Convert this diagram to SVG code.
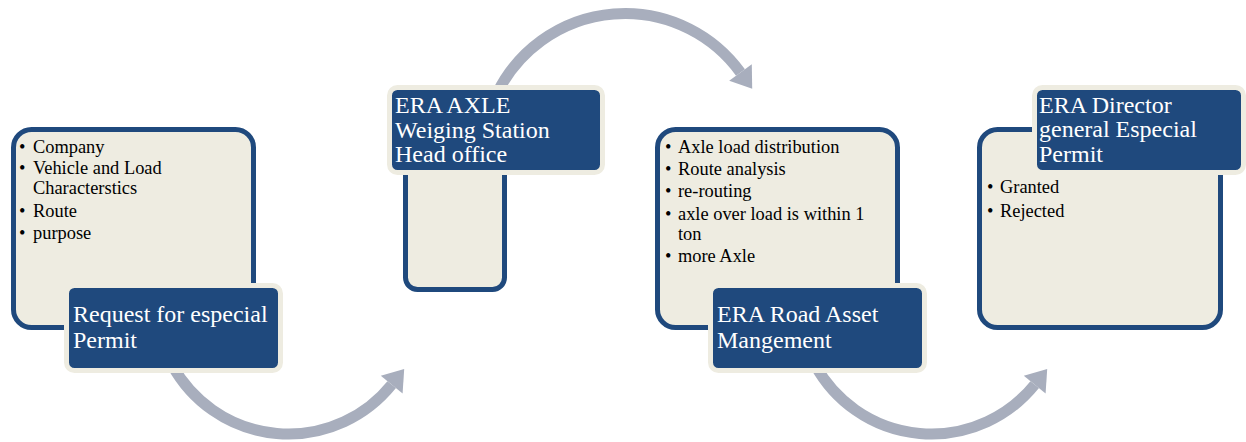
<svg xmlns="http://www.w3.org/2000/svg" width="1246" height="442" viewBox="0 0 1246 442">
<style>
.arc{fill:none;stroke:#a8aebd;stroke-width:11}
.head{fill:#a8aebd}
.light{fill:#eeece1;stroke:#1f497d;stroke-width:5}
.dark{fill:#1f497d;stroke:#eeece1;stroke-width:5}
.t{font-family:"Liberation Serif","Times New Roman",serif;font-size:24px;fill:#ffffff}
.b{font-family:"Liberation Serif","Times New Roman",serif;font-size:18.4px;fill:#000000}
</style>
<rect width="1246" height="442" fill="#ffffff"/>
<g id="connectors">
  <path class="arc" d="M172.2,365 A132.5,132.5 0 0 0 391.7,384.6"/>
  <polygon class="head" points="404.2,369 402.6,393.4 380.8,375.8"/>
  <path class="arc" d="M497.7,92 A142.5,142.5 0 0 1 740.5,72.5"/>
  <polygon class="head" points="752.2,88.7 751.8,64.3 729.2,80.7"/>
  <path class="arc" d="M815.2,365 A132.5,132.5 0 0 0 1034.7,384.6"/>
  <polygon class="head" points="1047.2,369 1045.6,393.4 1023.8,375.8"/>
</g>
<g id="node1">
  <rect class="light" x="13.5" y="129.5" width="240" height="198" rx="18"/>
  <text class="b"><tspan x="19" y="153.3">•</tspan><tspan x="33" y="153.3">Company</tspan></text>
  <text class="b"><tspan x="19" y="174.3">•</tspan><tspan x="33" y="174.3">Vehicle and Load</tspan><tspan x="33" y="194">Characterstics</tspan></text>
  <text class="b"><tspan x="19" y="216.7">•</tspan><tspan x="33" y="216.7">Route</tspan></text>
  <text class="b"><tspan x="19" y="239.3">•</tspan><tspan x="33" y="239.3">purpose</tspan></text>
  <rect class="dark" x="66.5" y="285.5" width="214" height="85" rx="8"/>
  <text class="t"><tspan x="73" y="322.3">Request for especial</tspan><tspan x="73" y="347.5">Permit</tspan></text>
</g>
<g id="node2">
  <rect class="light" x="405.5" y="140" width="99" height="149.5" rx="12"/>
  <rect class="dark" x="389.5" y="87.5" width="213" height="85" rx="8"/>
  <text class="t"><tspan x="395" y="112.5">ERA AXLE</tspan><tspan x="395" y="137.5">Weiging Station</tspan><tspan x="395" y="161.7">Head office</tspan></text>
</g>
<g id="node3">
  <rect class="light" x="657.5" y="129.5" width="240" height="198" rx="18"/>
  <text class="b"><tspan x="665" y="152.5">•</tspan><tspan x="678" y="152.5">Axle load distribution</tspan></text>
  <text class="b"><tspan x="665" y="174.5">•</tspan><tspan x="678" y="174.5">Route analysis</tspan></text>
  <text class="b"><tspan x="665" y="196.5">•</tspan><tspan x="678" y="196.5">re-routing</tspan></text>
  <text class="b"><tspan x="665" y="219.5">•</tspan><tspan x="678" y="219.5">axle over load is within 1</tspan><tspan x="678" y="239.5">ton</tspan></text>
  <text class="b"><tspan x="665" y="261.5">•</tspan><tspan x="678" y="261.5">more Axle</tspan></text>
  <rect class="dark" x="710.5" y="285.5" width="214" height="85" rx="8"/>
  <text class="t"><tspan x="717" y="322.3">ERA Road Asset</tspan><tspan x="717" y="347.5">Mangement</tspan></text>
</g>
<g id="node4">
  <rect class="light" x="979.5" y="129.5" width="241" height="198" rx="18"/>
  <text class="b"><tspan x="987" y="193.3">•</tspan><tspan x="1000" y="193.3">Granted</tspan></text>
  <text class="b"><tspan x="987" y="216.7">•</tspan><tspan x="1000" y="216.7">Rejected</tspan></text>
  <rect class="dark" x="1034.5" y="87.5" width="209" height="85" rx="8"/>
  <text class="t"><tspan x="1039" y="112.5">ERA Director</tspan><tspan x="1039" y="137">general Especial</tspan><tspan x="1039" y="161.7">Permit</tspan></text>
</g>
</svg>
